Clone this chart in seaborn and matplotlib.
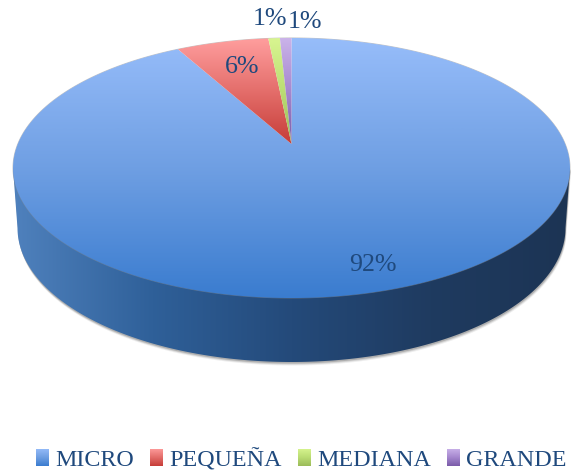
import numpy as np
import matplotlib
matplotlib.use('Agg')
import matplotlib.pyplot as plt
import seaborn as sns
from matplotlib.patches import PathPatch, Polygon
from matplotlib.path import Path
from matplotlib.transforms import Affine2D

categories = ['MICRO', 'PEQUEÑA', 'MEDIANA', 'GRANDE']
shares = [92, 6.4, 0.8, 0.8]

top_colors = [['#97BDFA', '#6F9FE3', '#3A7CCF'],
              ['#FF9E9E', '#E46E6B', '#C63D38'],
              ['#D8F590', '#BBDD74', '#9BBB59'],
              ['#CBB4EA', '#A688CF', '#7A5BA8']]
wall_colors = ['#4F81BD', '#2F6099', '#244A7A', '#1F3B60', '#1C3454']
label_xy = [(373, 265), (242, 67), (270, 19), (305, 22)]

# where the pie sits on the picture, pixels
cx, cy = 291.5, 144
k, c, d = 0.1846, 125.6, 273.7
low_cy, low_a, low_b = 228, 274, 134
text_color = '#1F497D'

sns.set_theme(style='white')
plt.rcParams['font.family'] = ['Liberation Serif', 'DejaVu Serif']


def warp(xy):
    # tilt the flat pie so that its centre moves up the ellipse
    w = 1 + k * xy[:, 1]
    return np.column_stack([cx + d * xy[:, 0] / w, cy - c * xy[:, 1] / w])


def fill_gradient(ax, verts, colors, horizontal=False, zorder=3):
    closed = np.vstack([verts, verts[:1]])
    patch = PathPatch(Path(closed, closed=True), fc='none', ec='none', zorder=zorder)
    ax.add_patch(patch)
    cmap = sns.blend_palette(colors, 256, as_cmap=True)
    ramp = np.linspace(0, 1, 256)[None, :] if horizontal else np.linspace(0, 1, 256)[:, None]
    box = (verts[:, 0].min(), verts[:, 0].max(), verts[:, 1].max(), verts[:, 1].min())
    im = ax.imshow(ramp, cmap=cmap, extent=box, aspect='auto', zorder=zorder, interpolation='bilinear')
    im.set_clip_path(patch)


fig = plt.figure(figsize=(5.76, 4.73), dpi=100)
ax = fig.add_axes([0, 0, 1, 1])

wedges, _, autotexts = ax.pie(shares, startangle=90, counterclock=False, autopct='%.0f%%',
                              colors=[cols[1] for cols in top_colors],
                              textprops={'color': text_color, 'fontsize': 18.7})
ax.set_aspect('auto')

# side wall
theta = np.linspace(np.pi, 2 * np.pi, 200)
low_x = cx + low_a * np.cos(theta)
low_y = low_cy - low_b * np.sin(theta)
wall = np.vstack([[[13, 168]], np.column_stack([low_x, low_y]), [[570, 168]]])

for off, alpha in [(3.5, 0.10), (2.5, 0.18), (1.5, 0.28)]:
    ax.add_patch(Polygon(wall + [off * 0.3, off], fc='#555555', ec='none', alpha=alpha, zorder=1))
fill_gradient(ax, wall, wall_colors, horizontal=True, zorder=2)

# top face, each slice with its own vertical fade
rim = warp(np.column_stack([np.cos(np.linspace(0, 2 * np.pi, 400)), np.sin(np.linspace(0, 2 * np.pi, 400))]))
ax.add_patch(Polygon(rim, fc='none', ec='#8A8A8A', lw=0.7, alpha=0.5, zorder=2.5))

up = Affine2D().scale(1000)
for wedge, cols in zip(wedges, top_colors):
    poly = wedge.get_path().to_polygons(transform=up)[0] / 1000
    fill_gradient(ax, warp(poly), cols, zorder=3)
    wedge.set_visible(False)

for txt, xy in zip(autotexts, label_xy):
    txt.set_position(xy)
    txt.set_zorder(5)

ax.set_xlim(0, 576)
ax.set_ylim(473, 0)

handles = [plt.Rectangle((0, 0), 1, 1, fc=cols[1], ec='none') for cols in top_colors]
leg = ax.legend(handles, categories, ncol=4, frameon=False, prop={'size': 17.3},
                labelcolor=text_color, loc='center left', bbox_to_anchor=(36, 460),
                bbox_transform=ax.transData, borderpad=0, borderaxespad=0,
                handlelength=0.55, handleheight=0.72, handletextpad=0.25, columnspacing=0.67)

# legend keys get the same fade as the slices
fig.canvas.draw()
inv = ax.transData.inverted()
for patch, cols in zip(leg.get_patches(), top_colors):
    bb = patch.get_window_extent().transformed(inv)
    box = np.array([[bb.x0, bb.y0], [bb.x1, bb.y0], [bb.x1, bb.y1], [bb.x0, bb.y1]])
    fill_gradient(ax, box, cols, zorder=6)

ax.set_xlim(0, 576)
ax.set_ylim(473, 0)
fig.savefig('out.png', dpi=100)
